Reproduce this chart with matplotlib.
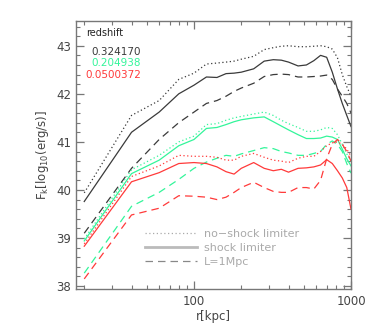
import matplotlib
matplotlib.use('Agg')
import matplotlib.pyplot as plt
from matplotlib.ticker import MultipleLocator, FixedLocator, NullFormatter
from matplotlib.lines import Line2D

# radius grid (kpc)
r = [20, 40, 60, 80, 100, 120, 140, 160, 180, 200, 240, 280, 320, 360, 400,
     460, 520, 580, 640, 700, 760, 820, 880, 940, 1000]

# z = 0.324170
black_noshock = [39.94, 41.55, 41.86, 42.30, 42.43, 42.62, 42.64, 42.66, 42.68, 42.72,
                 42.78, 42.92, 42.96, 42.99, 43.00, 42.98, 42.98, 42.99, 43.00, 42.98,
                 42.93, 42.75, 42.40, 42.15, 41.95]
black_shock = [39.76, 41.20, 41.62, 42.00, 42.18, 42.35, 42.34, 42.42, 42.43, 42.45,
               42.52, 42.68, 42.71, 42.70, 42.66, 42.58, 42.60, 42.69, 42.80, 42.76,
               42.45, 42.10, 41.80, 41.55, 41.32]
black_1mpc = [39.10, 40.45, 41.05, 41.40, 41.62, 41.80, 41.86, 41.95, 42.05, 42.12,
              42.22, 42.36, 42.40, 42.41, 42.40, 42.35, 42.35, 42.36, 42.37, 42.39,
              42.30, 42.10, 41.95, 41.80, 41.60]

# z = 0.204938
green_noshock = [38.98, 40.42, 40.72, 41.00, 41.12, 41.36, 41.38, 41.45, 41.50, 41.53,
                 41.58, 41.62, 41.55, 41.45, 41.38, 41.30, 41.22, 41.22, 41.25, 41.30,
                 41.28, 41.15, 40.95, 40.75, 40.60]
green_shock = [38.94, 40.34, 40.62, 40.92, 41.05, 41.28, 41.30, 41.36, 41.42, 41.46,
               41.50, 41.52, 41.42, 41.33, 41.25, 41.15, 41.07, 41.07, 41.08, 41.12,
               41.10, 41.05, 40.85, 40.65, 40.50]
green_1mpc = [38.27, 39.66, 39.95, 40.22, 40.45, 40.58, 40.66, 40.72, 40.70, 40.75,
              40.82, 40.88, 40.86, 40.80, 40.77, 40.72, 40.72, 40.76, 40.80, 40.95,
              41.02, 40.95, 40.80, 40.55, 40.35]

# z = 0.0500372
red_noshock = [38.88, 40.28, 40.50, 40.72, 40.70, 40.70, 40.68, 40.62, 40.62, 40.70,
               40.76, 40.68, 40.62, 40.60, 40.57, 40.66, 40.70, 40.70, 40.80, 40.92,
               40.98, 41.00, 40.95, 40.85, 40.70]
red_shock = [38.83, 40.17, 40.36, 40.55, 40.57, 40.55, 40.48, 40.38, 40.33, 40.45,
             40.57, 40.45, 40.40, 40.43, 40.37, 40.45, 40.46, 40.48, 40.52, 40.63,
             40.55, 40.40, 40.25, 40.05, 39.60]
red_1mpc = [38.15, 39.48, 39.62, 39.88, 39.87, 39.85, 39.80, 39.85, 39.95, 40.05,
            40.16, 40.05, 39.97, 39.95, 39.95, 40.05, 40.05, 40.02, 40.20, 40.65,
            40.95, 41.05, 40.95, 40.80, 40.60]

redshifts = ['0.324170', '0.204938', '0.0500372']
colors = ['#3a3a3a', '#33f59a', '#ff3a3a']
legend_labels = ['no\u2212shock limiter', 'shock limiter', 'L=1Mpc']

dotted = (0, (1, 2))
dashed = (0, (6, 4))

fig = plt.figure(figsize=(3.74, 3.32), dpi=100)
ax = fig.add_axes([0.203, 0.131, 0.7355, 0.8065])

series = [
    (black_noshock, black_shock, black_1mpc, colors[0]),
    (green_noshock, green_shock, green_1mpc, colors[1]),
    (red_noshock, red_shock, red_1mpc, colors[2]),
]
for noshock, shock, lmpc, c in series:
    ax.plot(r, noshock, color=c, lw=0.9, linestyle=dotted)
    ax.plot(r, shock, color=c, lw=0.9, linestyle='-')
    ax.plot(r, lmpc, color=c, lw=0.9, linestyle=dashed)

ax.set_xscale('log')
ax.set_xlim(17.7, 1000)
ax.set_ylim(37.95, 43.52)

frame_col = '#777777'
text_col = '#444444'
for s in ax.spines.values():
    s.set_color(frame_col)
    s.set_linewidth(1.0)

ax.xaxis.set_major_locator(FixedLocator([100, 1000]))
ax.xaxis.set_minor_locator(FixedLocator([20, 30, 40, 50, 60, 70, 80, 90,
                                         200, 300, 400, 500, 600, 700, 800, 900]))
ax.xaxis.set_minor_formatter(NullFormatter())
ax.set_xticklabels(['100', '1000'])
ax.yaxis.set_major_locator(MultipleLocator(1))
ax.yaxis.set_minor_locator(MultipleLocator(0.2))
ax.tick_params(which='both', direction='in', top=True, right=True,
               color=frame_col, labelcolor=text_col, labelsize=8.5)
ax.tick_params(which='major', length=6, width=0.9)
ax.tick_params(which='minor', length=3, width=0.8)
ax.tick_params(axis='x', pad=5)

ax.set_xlabel('r[kpc]', color=text_col, fontsize=8.5, labelpad=1)
ax.set_ylabel('F$_\\mathregular{k}$[log$_\\mathregular{10}$(erg/s)]', color=text_col,
              fontsize=8.5, labelpad=4)

# redshift labels
ax.text(0.038, 0.955, 'redshift', transform=ax.transAxes, fontsize=7,
        color='#222222', va='center', ha='left')
for i, (z, c) in enumerate(zip(redshifts, colors)):
    ax.text(0.237, 0.885 - i * 0.044, z, transform=ax.transAxes, fontsize=7.5,
            color=c, va='center', ha='right')

# style legend
leg_handles = [
    Line2D([], [], color='#aaaaaa', lw=0.9, linestyle=dotted),
    Line2D([], [], color='#bbbbbb', lw=2.0, linestyle='-'),
    Line2D([], [], color='#888888', lw=0.9, linestyle=dashed),
]
ax.legend(leg_handles, legend_labels, loc='lower left', bbox_to_anchor=(0.23, 0.06),
          frameon=False, fontsize=8, labelcolor='#aaaaaa', handlelength=4.7,
          handletextpad=0.6, labelspacing=0.35, borderpad=0)

fig.savefig('out.png', dpi=100)
